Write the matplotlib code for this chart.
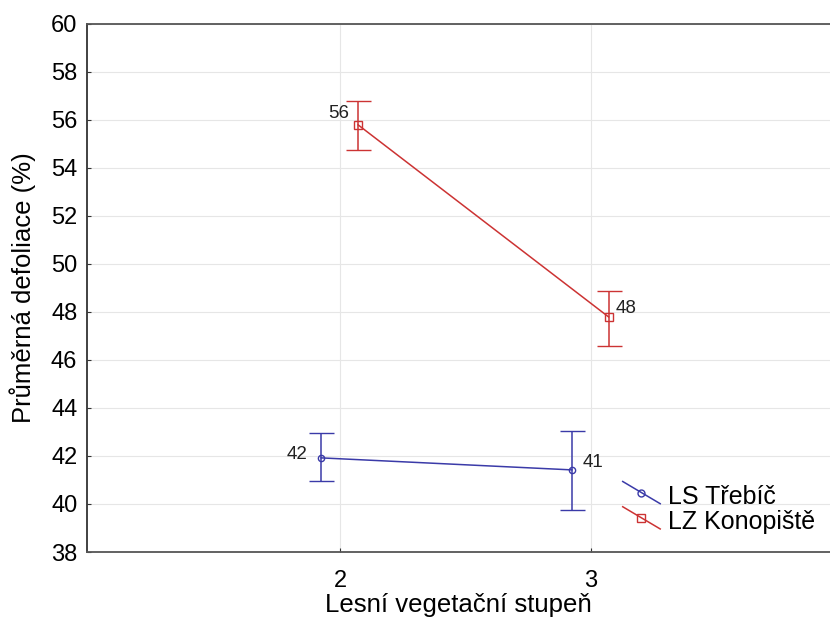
import matplotlib
matplotlib.use("Agg")
import matplotlib.pyplot as plt
from matplotlib.legend_handler import HandlerLine2D
from matplotlib.lines import Line2D

plt.rcParams['font.family'] = ['Liberation Sans', 'DejaVu Sans']

categories = [2, 3]
series_names = ["LS Třebíč", "LZ Konopiště"]
blue_means = [41.92, 41.42]
blue_err_low = [40.96, 39.75]
blue_err_high = [42.96, 43.04]
red_means = [55.79, 47.79]
red_err_low = [54.75, 46.58]
red_err_high = [56.79, 48.88]
blue_labels = ["42", "41"]
red_labels = ["56", "48"]
yticks = list(range(38, 61, 2))

BLUE = "#3a3aa8"
RED = "#cc3333"
PX = 0.72  # points per pixel

fig = plt.figure(figsize=(8.3, 6.28), dpi=100)
ax = fig.add_axes([0.1048, 0.121, 0.895, 0.8412])

offset_b = -0.075
offset_r = 0.072

xb = [c + offset_b for c in categories]
xr = [c + offset_r for c in categories]

def draw(xs, means, lo, hi, color, marker, ms, labels, offsets):
    yerr = [[m - l for m, l in zip(means, lo)], [h - m for m, h in zip(means, hi)]]
    ax.errorbar(xs, means, yerr=yerr, color=color, lw=1.1, capsize=9, capthick=1.1,
                elinewidth=1.1, marker=marker, markersize=ms, markerfacecolor='none',
                markeredgecolor=color, markeredgewidth=1.0, zorder=3)
    for x, m, t, (dx, dy, ha) in zip(xs, means, labels, offsets):
        ax.annotate(t, (x, m), xytext=(dx * PX, dy * PX), textcoords='offset points',
                    ha=ha, va='center', fontsize=13.5, color='#222222')

draw(xb, blue_means, blue_err_low, blue_err_high, BLUE, 'o', 4.5, blue_labels,
     [(-14, 3, 'right'), (11, 7, 'left')])
draw(xr, red_means, red_err_low, red_err_high, RED, 's', 5.5, red_labels,
     [(-9, 11, 'right'), (7, 8, 'left')])

ax.set_xlim(0.99, 3.955)
ax.set_ylim(38, 60)
ax.set_yticks(yticks)
ax.set_xticks(categories)
ax.grid(True, color='#e6e6e6', lw=0.8)
ax.set_axisbelow(True)
ax.tick_params(axis='both', labelsize=17, direction='in', length=3, color='#333333')
ax.tick_params(axis='x', pad=13)
ax.tick_params(axis='y', pad=7)
for s in ['left', 'bottom', 'top']:
    ax.spines[s].set_color('#555555')
    ax.spines[s].set_linewidth(1.3)
ax.spines['left'].set_color('#333333')
ax.spines['right'].set_visible(False)

ax.set_xlabel("Lesní vegetační stupeň", fontsize=18.5, labelpad=1)
ax.set_ylabel("Průměrná defoliace (%)", fontsize=18.5)
ax.yaxis.set_label_coords(-0.0686, 0.5)

class DiagHandler(HandlerLine2D):
    def create_artists(self, legend, orig_handle, xdescent, ydescent, width, height, fontsize, trans):
        cy = height / 2 + 2
        line = Line2D([0, width], [cy + 8, cy - 8], color=orig_handle.get_color(), lw=1.1)
        mk = Line2D([width / 2], [cy], marker=orig_handle.get_marker(),
                    markersize=5 if orig_handle.get_marker() == 'o' else 5.5,
                    markerfacecolor='none', markeredgecolor=orig_handle.get_color(),
                    markeredgewidth=1.0, lw=0)
        line.set_transform(trans)
        mk.set_transform(trans)
        return [line, mk]

h1 = Line2D([], [], color=BLUE, marker='o')
h2 = Line2D([], [], color=RED, marker='s')
ax.legend([h1, h2], series_names, handler_map={Line2D: DiagHandler()},
          loc='lower right', bbox_to_anchor=(1.0, 0.005), frameon=False, fontsize=18,
          handlelength=1.5, handletextpad=0.3, labelspacing=0.05, borderaxespad=0.2)

fig.savefig("out.png", dpi=100)
